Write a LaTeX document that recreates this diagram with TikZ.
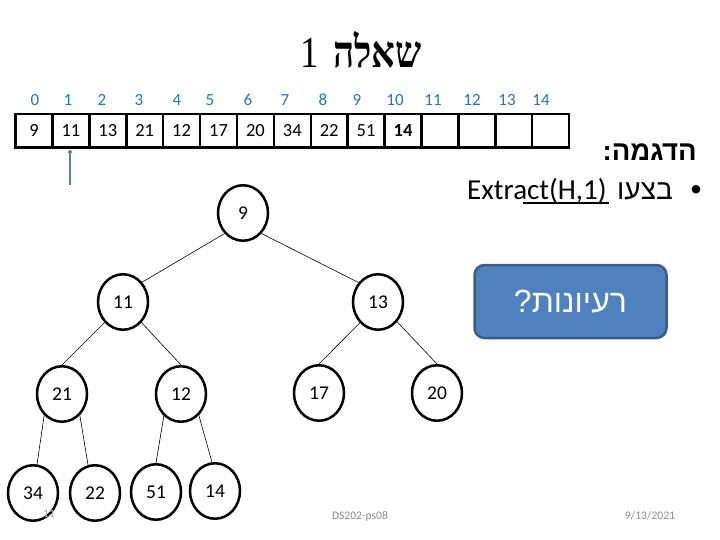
\documentclass[tikz,border=0pt]{standalone}
\usepackage{fontspec}
\setmainfont{Carlito}
\newfontfamily\hebsans[Script=Hebrew]{Liberation Sans}
\newfontfamily\hebserif[Script=Hebrew]{Liberation Serif}
\TeXXeTstate=1
\usetikzlibrary{shapes.geometric,arrows.meta,positioning}
\definecolor{idxblue}{HTML}{2A76A8}
\definecolor{boxfill}{HTML}{4F81BD}
\definecolor{boxline}{HTML}{385D8A}
\definecolor{ptrblue}{HTML}{5B7FA6}
\tikzset{
  heapnode/.style={draw,ellipse,line width=2.5pt,minimum width=50pt,minimum height=55.5pt,inner sep=0pt,text height=12.5pt,text depth=0pt,font=\fontsize{19.5}{20}\selectfont},
  cellnode/.style={draw,line width=2.5pt,minimum width=36.9pt,minimum height=33.5pt,inner sep=0pt,text height=11.5pt,text depth=0pt,font=\fontsize{18.5}{20}\selectfont},
  idxnode/.style={text=idxblue,inner sep=0pt,text height=11pt,text depth=0pt,font=\fontsize{17}{18}\selectfont},
  footnode/.style={text=black!45,inner sep=0pt,font=\fontsize{11.6}{13}\selectfont},
  heapedge/.style={line width=0.6pt}
}
\begin{document}
\begin{tikzpicture}[x=1pt,y=-1pt]
\useasboundingbox (0,0) rectangle (720,540);

% Title
\node[inner sep=0pt,font=\hebserif\fontsize{44}{50}\selectfont] (title) at (361,50) {\scalebox{.84}[1]{\beginR{\bfseries שאלה}\hspace{6pt} 1\endR}};

% Array indices
\foreach \x/\i in {35/0,68/1,102/2,139/3,177/4,210/5,248/6,285/7,323/8,357/9,395/10,433/11,472/12,507/13,541/14}
  \node[idxnode] (i\i) at (\x,100) {\i};

% Array cells
\foreach \i/\v in {0/9,1/11,2/13,3/21,4/12,5/17,6/20,7/34,8/22,9/51,10/\textbf{14},11/,12/,13/,14/}
  \node[cellnode] (c\i) at ({34+36.9*\i},131) {\v};

% Pointer to cell 1
\coordinate (ptr) at (70,185);
\coordinate (ptrtop) at (70,150);
\draw[ptrblue,line width=1.5pt,-{Circle[length=4pt]}] (ptr) -- (ptrtop);

% Text on the right
\node[anchor=east,inner sep=0pt,font=\hebsans\bfseries\fontsize{27.5}{30}\selectfont] (example) at (697,152) {\beginR הדגמה:\endR};
\node[anchor=west,inner sep=0pt,font=\fontsize{29}{32}\selectfont] (extract) at (467,191) {Extract(H,1)};
\node[anchor=west,inner sep=0pt,font=\hebsans\fontsize{28}{30}\selectfont] (doit) at (617,191) {\beginR בצעו\endR};
\node[anchor=center,inner sep=0pt,font=\fontsize{24}{30}\selectfont] (bullet) at (696,191) {•};
\coordinate (ulstart) at (523,203);
\coordinate (ulend) at (609,203);
\draw[line width=1.2pt] (ulstart) -- (ulend);

% Idea box
\node[draw=boxline,fill=boxfill,line width=2.5pt,rounded corners=10pt,minimum width=192pt,minimum height=73pt,text=white,font=\hebsans\fontsize{32}{36}\selectfont] (ideas) at (570.5,301.5) {\beginR רעיונות?\endR\hspace{5pt}};

% Heap
\node[heapnode] (n9) at (243,213) {9};
\node[heapnode] (n11) at (123,302) {11};
\node[heapnode] (n13) at (378,302) {13};
\node[heapnode] (n21) at (62,394) {21};
\node[heapnode] (n12) at (181,394) {12};
\node[heapnode] (n17) at (319,393) {17};
\node[heapnode] (n20) at (437,393) {20};
\node[heapnode] (n34) at (33,493) {34};
\node[heapnode] (n22) at (95,493) {22};
\node[heapnode] (n51) at (156,492) {51};
\node[heapnode] (n14) at (215,491) {14};

% Heap edges, with the angle at each end
\foreach \a/\aa/\b/\bb in {n9/228/n11/46,n9/312/n13/135,n11/228/n21/90,n11/312/n12/90,n13/229/n17/90,n13/314/n20/90,n21/230/n34/82,n21/310/n22/104,n12/232/n51/90,n12/310/n14/96}
  \draw[heapedge] (\a.\aa) -- (\b.\bb);

% Footer
\node[footnode,text=black!35] (pagenum) at (49,514) {11};
\node[footnode] (course) at (360,516) {DS202-ps08};
\node[footnode] (date) at (650,516) {9/13/2021};
\end{tikzpicture}
\end{document}
